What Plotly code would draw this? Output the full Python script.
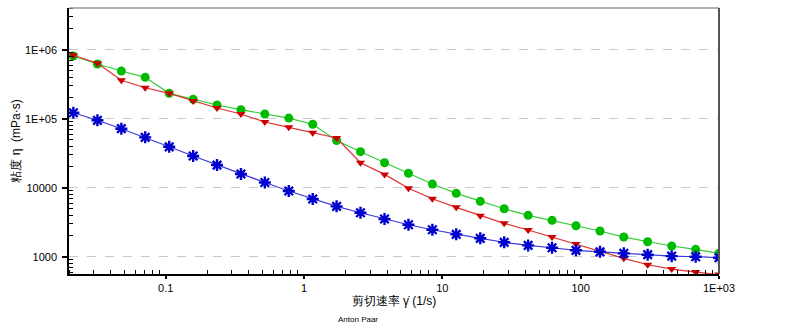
import plotly.graph_objects as go

# shear rate (1/s)
shear_rate = [0.0215, 0.0321, 0.0478, 0.0711, 0.106, 0.158, 0.235, 0.350, 0.521, 0.776,
              1.156, 1.72, 2.56, 3.82, 5.69, 8.47, 12.6, 18.8, 28.0, 41.7,
              62.1, 92.5, 138, 205, 305, 455, 678, 1000]
# viscosity (mPa·s)
green_eta = [811e3, 621e3, 491e3, 398e3, 233e3, 191e3, 158e3, 135e3, 117e3, 102e3,
             83e3, 48.3e3, 33.3e3, 23.0e3, 16.2e3, 11.3e3, 8300, 6350, 4960, 3980,
             3370, 2810, 2360, 1930, 1650, 1430, 1280, 1120]
red_eta = [830e3, 635e3, 361e3, 281e3, 233e3, 181e3, 143e3, 117e3, 89.5e3, 75e3,
           62.6e3, 52.5e3, 23.0e3, 15.6e3, 9800, 6930, 5200, 3930, 3050, 2440,
           1930, 1530, 1180, 948, 766, 663, 600, 552]
blue_eta = [122e3, 94.9e3, 71.6e3, 53.7e3, 39.2e3, 28.8e3, 21.3e3, 15.8e3, 11.9e3, 8960,
            6860, 5370, 4340, 3520, 2910, 2460, 2110, 1850, 1620, 1460,
            1350, 1240, 1180, 1120, 1070, 1020, 1000, 968]

x_tickvals = [0.1, 1, 10, 100, 1000]
x_ticktext = ["0.1", "1", "10", "100", "1E+03"]
y_tickvals = [1000, 10000, 1e5, 1e6]
y_ticktext = ["1000", "10000", "1E+05", "1E+06"]

x_minor = [m * 10 ** e for e in range(-2, 3) for m in range(2, 10)]
y_minor = [m * 10 ** e for e in range(2, 7) for m in range(2, 10)]

FONT = "Liberation Sans, Arial, sans-serif"

fig = go.Figure()
fig.add_trace(go.Scatter(
    x=shear_rate, y=green_eta, mode="lines+markers",
    line=dict(color="#33cc33", width=1.2),
    marker=dict(symbol="circle", size=9, color="#00bb00", line=dict(width=0)),
))
fig.add_trace(go.Scatter(
    x=shear_rate, y=red_eta, mode="lines+markers",
    line=dict(color="#e03030", width=1.2),
    marker=dict(symbol="triangle-down", size=8, color="#cc0000", line=dict(width=0)),
))
fig.add_trace(go.Scatter(
    x=shear_rate, y=blue_eta, mode="lines+markers",
    line=dict(color="#3a3ae0", width=1.2),
    marker=dict(symbol="asterisk", size=10, color="#0000cc",
                line=dict(width=2.4, color="#0000cc")),
))

fig.update_layout(
    width=786, height=332,
    margin=dict(l=69, r=67, t=8, b=58),
    paper_bgcolor="white", plot_bgcolor="white",
    showlegend=False,
    font=dict(family=FONT, size=11, color="black"),
    xaxis=dict(
        type="log", range=[-1.699, 3.0],
        tickvals=x_tickvals, ticktext=x_ticktext,
        ticks="outside", ticklen=3, tickwidth=1.5, tickcolor="black",
        ticklabelstandoff=0,
        minor=dict(tickvals=x_minor, ticks="inside", ticklen=4, tickwidth=1, tickcolor="black"),
        showline=True, linecolor="black", linewidth=1.5,
        showgrid=False, zeroline=False,
        title=dict(text="剪切速率 γ̇ (1/s)", font=dict(size=12), standoff=4),
    ),
    yaxis=dict(
        type="log", range=[2.75, 6.604],
        tickvals=y_tickvals, ticktext=y_ticktext,
        ticks="outside", ticklen=5, tickwidth=1.5, tickcolor="black",
        ticklabelstandoff=3,
        minor=dict(tickvals=y_minor, ticks="inside", ticklen=4, tickwidth=1, tickcolor="black"),
        showline=True, linecolor="black", linewidth=1.5,
        showgrid=True, gridcolor="#c8c8c8", griddash="dash", gridwidth=1,
        zeroline=False,
        title=dict(text="粘度 η  (mPa·s)", font=dict(size=12), standoff=2),
    ),
    shapes=[
        dict(type="line", xref="paper", yref="paper", x0=0, x1=1, y0=1, y1=1,
             line=dict(color="#999999", width=1.5)),
        dict(type="line", xref="paper", yref="paper", x0=1, x1=1, y0=0, y1=1,
             line=dict(color="#555555", width=2)),
    ],
    annotations=[
        dict(text="Anton Paar", xref="paper", yref="paper", x=0.445, y=-0.145,
             xanchor="center", yanchor="top", showarrow=False,
             font=dict(size=8, color="black")),
    ],
)

fig.write_html("out.html")
